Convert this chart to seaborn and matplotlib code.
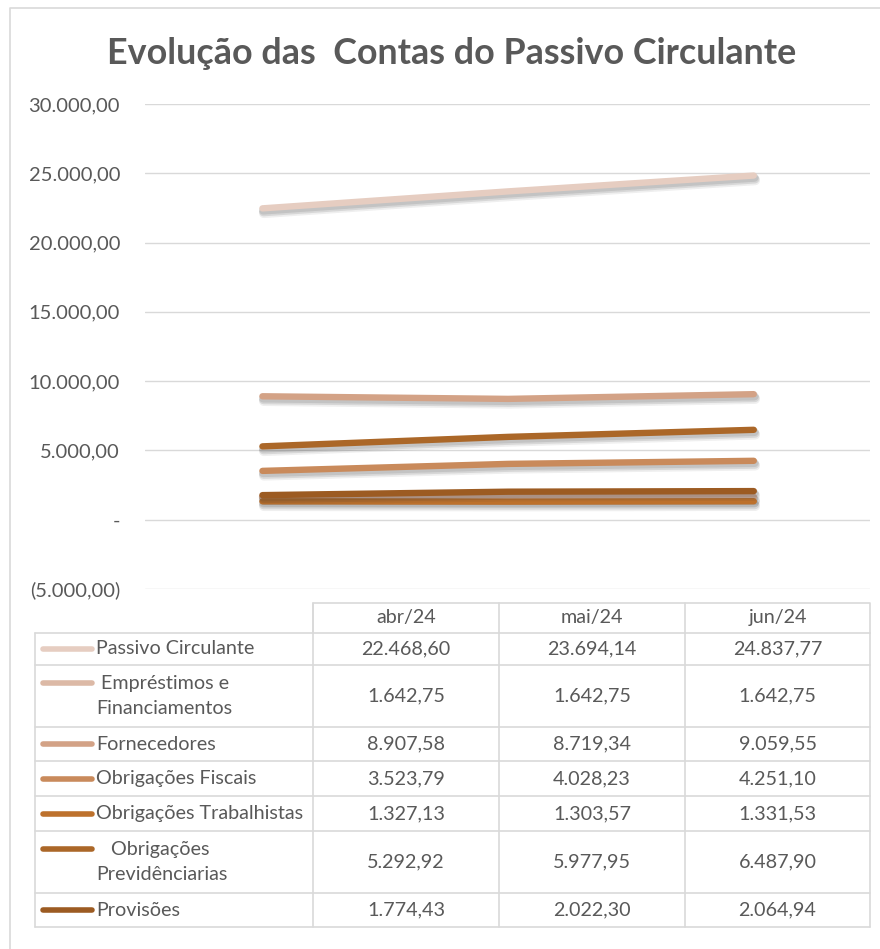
import pandas as pd
import matplotlib.pyplot as plt
import matplotlib.patheffects as pe
import seaborn as sns

# data from the table under the chart
meses = ['abr/24', 'mai/24', 'jun/24']
contas = ['Passivo Circulante', 'Empréstimos e Financiamentos', 'Fornecedores',
          'Obrigações Fiscais', 'Obrigações Trabalhistas',
          'Obrigações Previdênciarias', 'Provisões']
rotulos = ['Passivo Circulante', ' Empréstimos e\nFinanciamentos', 'Fornecedores',
           'Obrigações Fiscais', 'Obrigações Trabalhistas',
           '   Obrigações\nPrevidênciarias', 'Provisões']
passivo = [22468.60, 23694.14, 24837.77]
emprestimos = [1642.75, 1642.75, 1642.75]
fornecedores = [8907.58, 8719.34, 9059.55]
fiscais = [3523.79, 4028.23, 4251.10]
trabalhistas = [1327.13, 1303.57, 1331.53]
previdenciarias = [5292.92, 5977.95, 6487.90]
provisoes = [1774.43, 2022.30, 2064.94]
cores = ['#e6cdc1', '#dcb9a6', '#d3a286', '#c98a5b', '#bd712c', '#ab6728', '#9c5b22']

series = [passivo, emprestimos, fornecedores, fiscais, trabalhistas, previdenciarias, provisoes]
df = pd.DataFrame({'mes': meses * len(contas),
                   'conta': [c for c in contas for m in meses],
                   'valor': [v for s in series for v in s]})

sns.set_style('white')
plt.rcParams['font.family'] = ['Lato', 'DejaVu Sans']
cinza = '#595959'

W, H = 880, 949
fig = plt.figure(figsize=(W / 100, H / 100), dpi=100)

def frac(x0, y0, x1, y1):
    # pixel box (top-left origin) -> figure fractions
    return [x0 / W, 1 - y1 / H, (x1 - x0) / W, (y1 - y0) / H]

ax = fig.add_axes(frac(145, 104, 870, 589))
# soft shadow under the lines
sombra = [pe.SimpleLineShadow(offset=(0.5, -1.5), shadow_color='#333333', alpha=0.12, rho=1, linewidth=6),
          pe.SimpleLineShadow(offset=(0.8, -2.5), shadow_color='#333333', alpha=0.12, rho=1, linewidth=6.5),
          pe.SimpleLineShadow(offset=(1.0, -3.5), shadow_color='#333333', alpha=0.08, rho=1, linewidth=7),
          pe.Normal()]
sns.lineplot(data=df, x='mes', y='valor', hue='conta', hue_order=contas,
             palette=cores, linewidth=4.6, solid_capstyle='round', sort=False,
             legend=False, ax=ax, path_effects=sombra)
ax.set_xlim(-0.478, 2.473)
ax.set_ylim(-5000, 30000)
ax.set_yticks(range(-5000, 30001, 5000))

def fmt(v):
    s = f'{abs(v):,.2f}'.replace(',', 'X').replace('.', ',').replace('X', '.')
    return s

ax.set_yticklabels([('-' if t == 0 else ('(' + fmt(t) + ')' if t < 0 else fmt(t)))
                    for t in range(-5000, 30001, 5000)], fontsize=14.5, color=cinza)
ax.tick_params(axis='y', length=0, pad=18)
ax.set_xticks([])
ax.set_xlabel('')
ax.set_ylabel('')
ax.grid(axis='y', color='#d9d9d9', linewidth=1)
ax.set_axisbelow(True)
sns.despine(ax=ax, left=True, bottom=True)

# overlay in pixel coordinates for title, frame and data table
ov = fig.add_axes([0, 0, 1, 1], zorder=-1)
ov.set_xlim(0, W)
ov.set_ylim(H, 0)
ov.axis('off')
ov.plot([10, 10, W], [H, 8, 8], color='#d9d9d9', lw=1.2)
ov.text(452, 53, 'Evolução das  Contas do Passivo Circulante', ha='center', va='center',
        fontsize=25.8, fontweight='bold', color=cinza)

tab = fig.add_axes([0, 0, 1, 1])
tab.set_xlim(0, W)
tab.set_ylim(H, 0)
tab.axis('off')
col_x = [35, 313, 499, 685, 870]
row_y = [633, 665, 727, 761, 796, 831, 893, 927]
linha = dict(color='#d9d9d9', lw=1.2)
fs = 14.2
# header
tab.plot([313, 313, 870, 870], [633, 603, 603, 633], **linha)
for i, m in enumerate(meses):
    tab.plot([col_x[i + 1]] * 2, [603, 633], **linha)
    tab.text((col_x[i + 1] + col_x[i + 2]) / 2, 618, m, ha='center', va='center',
             fontsize=fs, color=cinza)
for y in row_y:
    tab.plot([35, 870], [y, y], **linha)
for x in col_x:
    tab.plot([x, x], [633, 927], **linha)
for k, conta in enumerate(contas):
    y0, y1 = row_y[k], row_y[k + 1]
    yc = (y0 + y1) / 2
    dois = '\n' in rotulos[k]
    yk = yc - 13 if dois else yc
    tab.plot([43, 92], [yk, yk], color=cores[k], lw=4, solid_capstyle='round')
    tab.text(96, yc, rotulos[k], ha='left', va='center', fontsize=fs, color=cinza,
             linespacing=1.5)
    for i in range(3):
        tab.text((col_x[i + 1] + col_x[i + 2]) / 2, yc, fmt(series[k][i]),
                 ha='center', va='center', fontsize=fs, color=cinza)

fig.savefig('out.png', dpi=100)
